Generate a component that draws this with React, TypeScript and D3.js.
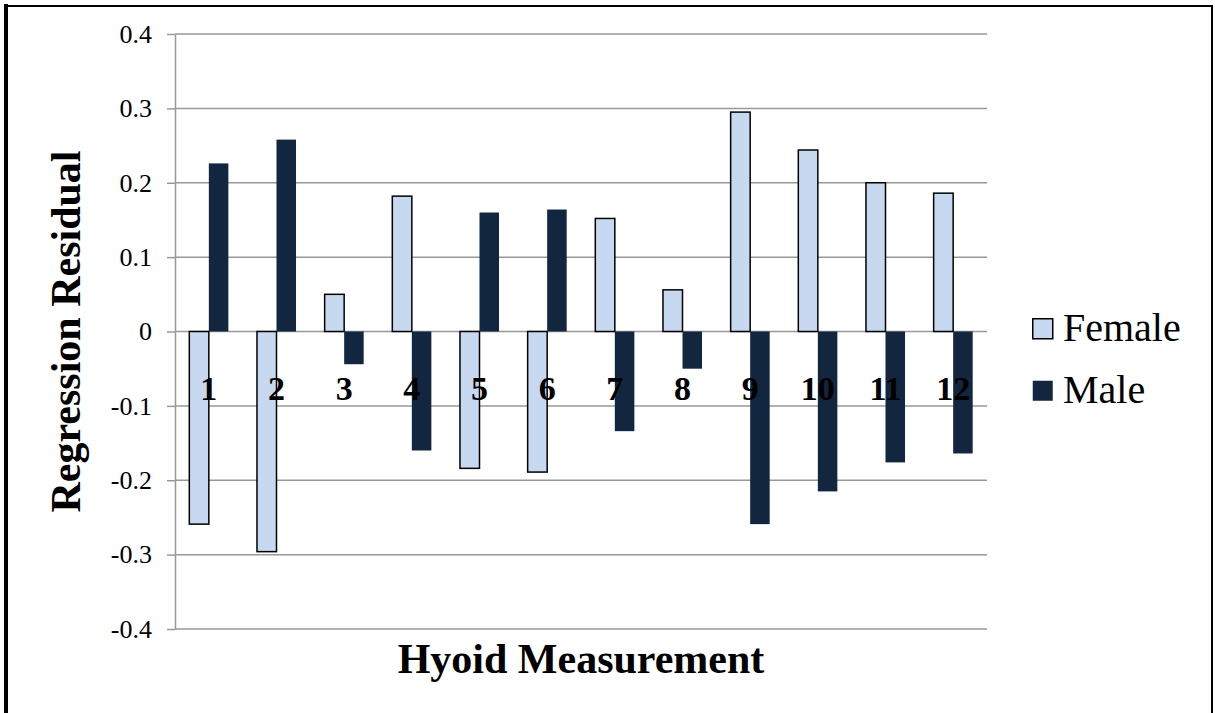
import { useEffect, useRef } from "react";
import * as d3 from "d3";

const categories = ["1", "2", "3", "4", "5", "6", "7", "8", "9", "10", "11", "12"];
const femaleValues = [-0.259, -0.296, 0.05, 0.182, -0.184, -0.189, 0.152, 0.056, 0.295, 0.244, 0.2, 0.186];
const maleValues = [0.226, 0.258, -0.044, -0.16, 0.16, 0.164, -0.134, -0.05, -0.259, -0.215, -0.176, -0.164];
const yTicks = [0.4, 0.3, 0.2, 0.1, 0, -0.1, -0.2, -0.3, -0.4];
const seriesNames = ["Female", "Male"];

const FONT = "'Liberation Serif', 'Times New Roman', serif";
const FEMALE_FILL = "#c6d9f1";
const MALE_FILL = "#12263f";

export default function App() {
  const svgRef = useRef<SVGSVGElement>(null);

  const width = 1215;
  const height = 713;
  const margin = { top: 34, right: 228, bottom: 84, left: 175 };
  const innerWidth = width - margin.left - margin.right;
  const innerHeight = height - margin.top - margin.bottom;

  useEffect(() => {
    if (!svgRef.current) return;
    const svg = d3.select(svgRef.current);
    svg.selectAll("*").remove();

    const x0 = d3.scaleBand().domain(categories).range([0, innerWidth]).paddingInner(0.423).paddingOuter(0.2115);
    const x1 = d3.scaleBand().domain(seriesNames).range([0, x0.bandwidth()]);
    const y = d3.scaleLinear().domain([-0.4, 0.4]).range([innerHeight, 0]);
    const color = d3.scaleOrdinal<string, string>().domain(seriesNames).range([FEMALE_FILL, MALE_FILL]);

    const g = svg.append("g").attr("transform", `translate(${margin.left},${margin.top})`);

    // gridlines
    g.append("g")
      .selectAll("line")
      .data(yTicks)
      .join("line")
      .attr("x1", 0)
      .attr("x2", innerWidth)
      .attr("y1", (d) => y(d))
      .attr("y2", (d) => y(d))
      .attr("stroke", "#989898")
      .attr("stroke-width", 1.5);

    // y axis
    const yAxis = g
      .append("g")
      .attr("font-family", FONT)
      .call(d3.axisLeft(y).tickValues(yTicks).tickSize(8).tickSizeOuter(0).tickPadding(15).tickFormat((d) => String(+d)));
    yAxis.attr("font-family", FONT).attr("font-size", 26);
    yAxis.select(".domain").attr("stroke", "#999").attr("stroke-width", 1.5);
    yAxis.selectAll(".tick line").attr("stroke", "#999").attr("stroke-width", 1.5);
    yAxis.selectAll("text").attr("fill", "#000");

    // bars
    const rows = categories.map((c, i) => ({ category: c, Female: femaleValues[i], Male: maleValues[i] }));
    const groups = g
      .append("g")
      .selectAll("g")
      .data(rows)
      .join("g")
      .attr("transform", (d) => `translate(${x0(d.category) ?? 0},0)`);

    groups
      .selectAll("rect")
      .data((d) => seriesNames.map((key) => ({ key, value: d[key as "Female" | "Male"] })))
      .join("rect")
      .attr("x", (d) => x1(d.key) ?? 0)
      .attr("width", x1.bandwidth())
      .attr("y", (d) => y(Math.max(0, d.value)))
      .attr("height", (d) => Math.abs(y(d.value) - y(0)))
      .attr("fill", (d) => color(d.key))
      .attr("stroke", (d) => (d.key === "Female" ? "#000" : "none"))
      .attr("stroke-width", 1.5);

    // category labels (drawn over bars, below zero line)
    g.append("g")
      .selectAll("text")
      .data(categories)
      .join("text")
      .attr("x", (d) => (x0(d) ?? 0) + x0.bandwidth() / 2)
      .attr("y", y(-0.1) - 6)
      .attr("text-anchor", "middle")
      .attr("font-family", FONT)
      .attr("font-weight", "bold")
      .attr("font-size", 34)
      .attr("fill", "#000")
      .text((d) => d);

    // x title
    svg
      .append("text")
      .attr("x", margin.left + innerWidth / 2)
      .attr("y", 673)
      .attr("text-anchor", "middle")
      .attr("font-family", FONT)
      .attr("font-weight", "bold")
      .attr("font-size", 42)
      .text("Hyoid Measurement");

    // y title
    svg
      .append("text")
      .attr("transform", `translate(80,${margin.top + innerHeight / 2}) rotate(-90)`)
      .attr("text-anchor", "middle")
      .attr("font-family", FONT)
      .attr("font-weight", "bold")
      .attr("font-size", 42)
      .text("Regression Residual");

    // legend
    const legend = svg.append("g").attr("transform", "translate(1032,318)");
    seriesNames.forEach((name, i) => {
      const item = legend.append("g").attr("transform", `translate(0,${i * 62})`);
      item
        .append("rect")
        .attr("x", 0.75)
        .attr("y", 0.75)
        .attr("width", 20)
        .attr("height", 20)
        .attr("fill", color(name))
        .attr("stroke", name === "Female" ? "#000" : "none")
        .attr("stroke-width", 1.5);
      item
        .append("text")
        .attr("x", 31)
        .attr("y", 23)
        .attr("font-family", FONT)
        .attr("font-size", 40)
        .attr("fill", "#000")
        .text(name);
    });

    // outer frame
    svg.append("line").attr("x1", 6).attr("x2", 6).attr("y1", 4).attr("y2", height).attr("stroke", "#000").attr("stroke-width", 4);
    svg.append("line").attr("x1", 4).attr("x2", 1213).attr("y1", 6).attr("y2", 6).attr("stroke", "#000").attr("stroke-width", 2);
    svg.append("line").attr("x1", 1212).attr("x2", 1212).attr("y1", 5).attr("y2", height).attr("stroke", "#000").attr("stroke-width", 2);
  }, [innerWidth, innerHeight, margin.left, margin.top, height]);

  return (
    <svg
      ref={svgRef}
      width={width}
      height={height}
      style={{ position: "absolute", left: 0, top: 0, background: "#fff" }}
    />
  );
}
